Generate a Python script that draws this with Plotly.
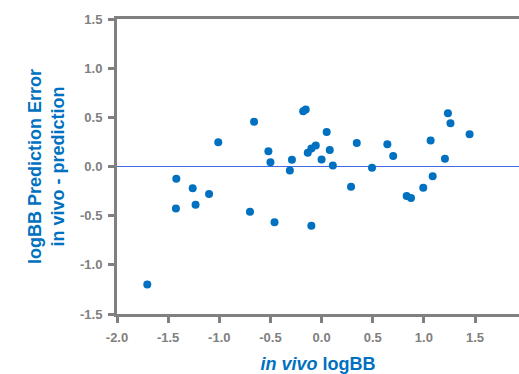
import plotly.graph_objects as go

x_logbb = [-1.42, -1.26, -1.10, -1.01, -0.66, -0.52, -0.50, -0.31, -0.29, -0.18, -0.155,
           -0.135, -0.10, -0.057, 0.0, 0.05, 0.08, 0.11, 0.288, 0.344, 0.493, 0.643, 0.70,
           0.832, 0.874, 0.994, 1.066, 1.086, 1.206, 1.235, 1.26, 1.447,
           -1.424, -1.232, -0.70, -0.46, -0.10, -1.704]
y_error = [-0.125, -0.22, -0.28, 0.247, 0.454, 0.156, 0.044, -0.04, 0.068, 0.562, 0.58,
           0.139, 0.183, 0.213, 0.071, 0.352, 0.169, 0.01, -0.207, 0.24, -0.013, 0.227, 0.108,
           -0.30, -0.32, -0.217, 0.264, -0.098, 0.078, 0.542, 0.44, 0.328,
           -0.427, -0.39, -0.46, -0.566, -0.603, -1.20]

x_ticks = [-2.0, -1.5, -1.0, -0.5, 0.0, 0.5, 1.0, 1.5, 2.0]
y_ticks = [-1.5, -1.0, -0.5, 0.0, 0.5, 1.0, 1.5]

blue = "#0070C0"
grey = "#808080"
fam = "Liberation Sans, Arial, sans-serif"

fig = go.Figure()
fig.add_trace(go.Scatter(x=x_logbb, y=y_error, mode="markers",
                         marker=dict(color=blue, size=8), showlegend=False))

fig.update_layout(
    width=519, height=374,
    margin=dict(l=117, r=0, t=19, b=60),
    plot_bgcolor="white", paper_bgcolor="white",
    font=dict(family=fam),
)
fig.update_xaxes(
    range=[-2.0, 1.93], tickvals=x_ticks, ticktext=[f"{v:.1f}" for v in x_ticks],
    showgrid=False, zeroline=False, showline=True, linecolor=grey, linewidth=3,
    mirror=True, ticks="outside", ticklen=6, tickwidth=3, tickcolor=grey,
    ticklabelstandoff=3,
    tickfont=dict(size=13, color=grey, family=fam, weight="bold"),
    title=dict(text="<i>in vivo</i> logBB", standoff=18,
               font=dict(size=18, color=blue, family=fam, weight="bold")),
)
fig.update_yaxes(
    range=[-1.5, 1.5], tickvals=y_ticks, ticktext=[f"{v:.1f}" for v in y_ticks],
    showgrid=False, zeroline=True, zerolinecolor="#4169E1", zerolinewidth=1,
    showline=True, linecolor=grey, linewidth=3,
    ticks="outside", ticklen=6, tickwidth=3, tickcolor=grey,
    ticklabelstandoff=3,
    tickfont=dict(size=13, color=grey, family=fam, weight="bold"),
    title=dict(text="logBB Prediction Error<br>in vivo - prediction", standoff=11,
               font=dict(size=18, color=blue, family=fam, weight="bold")),
)

fig.write_html("out.html")
